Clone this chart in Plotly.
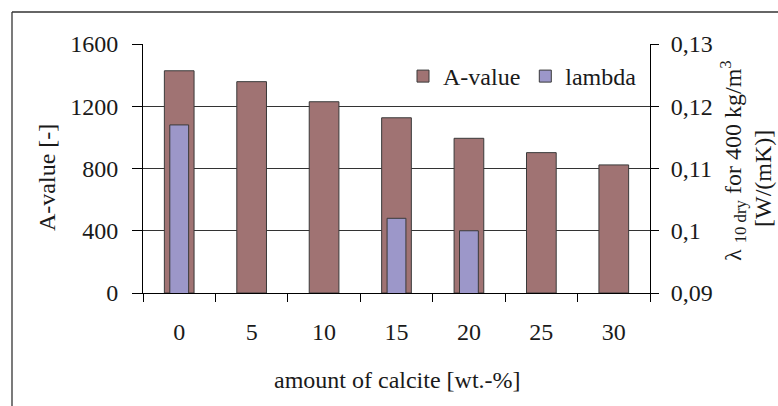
import plotly.graph_objects as go

categories = ["0", "5", "10", "15", "20", "25", "30"]
a_value = [1428, 1358, 1229, 1126, 994, 902, 823]
lambda_vals = [0.117, None, None, 0.102, 0.100, None, None]
left_ticks = [0, 400, 800, 1200, 1600]
right_tickvals = [0.09, 0.10, 0.11, 0.12, 0.13]
right_ticktext = ["0,09", "0,1", "0,11", "0,12", "0,13"]

FONT = "Liberation Serif"
FS = 24
TXT = "#1a1a1a"

# plot area in pixels
L, R, T, B = 143, 650, 44, 293
W, H = 778, 406


def px(x):
    return (x - L) / (R - L)


def py(y):
    return (B - y) / (B - T)


fig = go.Figure()
fig.add_trace(go.Bar(
    x=categories, y=a_value, name="A-value", width=0.41,
    marker=dict(color="#A07373", line=dict(color="#3a3a3a", width=1)),
))
fig.add_trace(go.Bar(
    x=categories, y=lambda_vals, name="lambda", width=0.26, yaxis="y2",
    marker=dict(color="#9C97C9", line=dict(color="#3a3a3a", width=1)),
))

fig.update_layout(
    width=W, height=H,
    margin=dict(l=L, r=W - R, t=T, b=H - B, pad=0),
    paper_bgcolor="white", plot_bgcolor="white",
    barmode="overlay",
    font=dict(family=FONT, size=FS, color=TXT),
    showlegend=True,
    legend=dict(
        orientation="h", x=px(642), xanchor="right", y=py(54), yanchor="top",
        bgcolor="rgba(0,0,0,0)", font=dict(family=FONT, size=FS, color=TXT),
        itemwidth=30, tracegroupgap=0, traceorder="normal",
    ),
    xaxis=dict(
        type="category", showline=True, linecolor="black", linewidth=1,
        ticks="outside", ticklen=8, tickcolor="black", tickson="boundaries",
        showgrid=False, ticklabelstandoff=17, mirror=False,
        tickfont=dict(family=FONT, size=FS, color=TXT),
    ),
    yaxis=dict(
        range=[0, 1600], tickvals=left_ticks, showline=True, linecolor="black",
        linewidth=1, ticks="outside", ticklen=10, tickcolor="black",
        showgrid=True, gridcolor="#333333", gridwidth=1, zeroline=False,
        ticklabelstandoff=9, tickfont=dict(family=FONT, size=FS, color=TXT),
    ),
    yaxis2=dict(
        range=[0.09, 0.13], overlaying="y", side="right", tickvals=right_tickvals,
        ticktext=right_ticktext, showline=True, linecolor="black", linewidth=1,
        ticks="outside", ticklen=8, tickcolor="black", showgrid=False,
        zeroline=False, ticklabelstandoff=7,
        tickfont=dict(family=FONT, size=FS, color=TXT),
    ),
    annotations=[
        dict(text="amount of calcite [wt.-%]", xref="paper", yref="paper",
             x=px(397), y=py(380), showarrow=False, xanchor="center", yanchor="middle"),
        dict(text="A-value [-]", xref="paper", yref="paper", textangle=-90,
             x=px(47), y=py(178), showarrow=False, xanchor="center", yanchor="middle"),
        dict(text="λ <sub>10 dry</sub> for 400 kg/m<sup>3</sup>", xref="paper", yref="paper",
             textangle=-90, x=px(733), y=py(161), showarrow=False,
             xanchor="center", yanchor="middle"),
        dict(text="[W/(mK)]", xref="paper", yref="paper", textangle=-90,
             x=px(763), y=py(179), showarrow=False, xanchor="center", yanchor="middle"),
    ],
    shapes=[
        dict(type="line", xref="paper", yref="paper", x0=px(12), x1=px(12),
             y0=py(410), y1=py(12), line=dict(color="#333333", width=1.3)),
        dict(type="line", xref="paper", yref="paper", x0=px(12), x1=px(780),
             y0=py(12), y1=py(12), line=dict(color="#333333", width=1.3)),
    ],
)

fig.write_html("out.html", config={"displayModeBar": False},
               post_script="document.body.style.margin='0';")
